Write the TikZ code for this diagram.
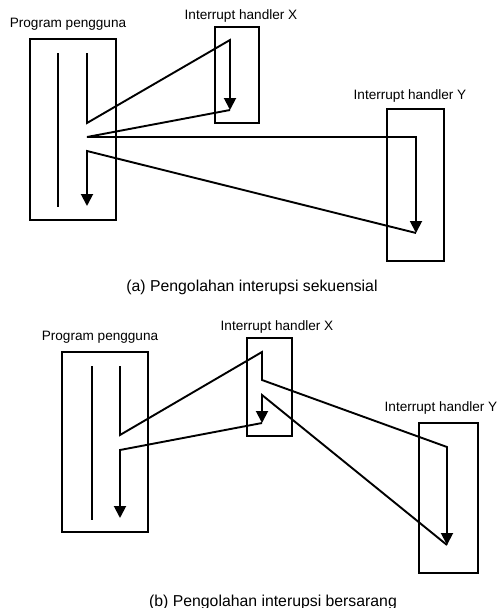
\documentclass[tikz,border=0pt]{standalone}
\usepackage{fontspec}
\setmainfont{Liberation Sans}
\usetikzlibrary{arrows.meta}
\tikzset{
  box/.style={draw, line width=1.9pt, inner sep=0pt},
  lbl/.style={anchor=base, inner sep=0pt, font=\fontsize{13.6}{16}\selectfont},
  captxt/.style={anchor=base, inner sep=0pt, font=\fontsize{15.8}{18}\selectfont},
  flow/.style={line width=1.9pt},
  tip/.style={flow, -{Triangle[length=12pt,width=12pt]}}
}
\begin{document}
\begin{tikzpicture}[x=1pt, y=-1pt]
        \useasboundingbox (0,0) rectangle (499,608);
        % (a) sequential
        \node[box, minimum width=86pt, minimum height=181pt] (proga) at (73,129.5) {};
        \node[box, minimum width=44pt, minimum height=96pt] (hxa) at (237,75) {};
        \node[box, minimum width=57pt, minimum height=152pt] (hya) at (415.5,185) {};
        \node[lbl] (lproga) at (68,27) {Program pengguna};
        \node[lbl] (lhxa) at (241,19) {Interrupt handler X};
        \node[lbl] (lhya) at (410,99) {Interrupt handler Y};
        \node[captxt] (capa) at (252,291) {(a) Pengolahan interupsi sekuensial};
        \coordinate (a0) at (58,53);   \coordinate (a1) at (58,207);
        \coordinate (u1) at (87,53);   \coordinate (u2) at (87,123);
        \coordinate (u3) at (87,137);  \coordinate (u4) at (87,151);
        \coordinate (u5) at (87,206);
        \coordinate (x1) at (230,40);  \coordinate (x2) at (230,110);
        \coordinate (y1) at (416,137); \coordinate (y2) at (416,233);
        \draw[flow] (a0) -- (a1);
        \draw[tip] (u1) -- (u2) -- (x1) -- (x2);
        \draw[tip] (x2) -- (u3) -- (y1) -- (y2);
        \draw[tip] (y2) -- (u4) -- (u5);
        % (b) nested
        \node[box, minimum width=86pt, minimum height=180pt] (progb) at (105,442) {};
        \node[box, minimum width=45pt, minimum height=98pt] (hxb) at (269.5,387) {};
        \node[box, minimum width=59pt, minimum height=150pt] (hyb) at (448.5,498) {};
        \node[lbl] (lprogb) at (100,340) {Program pengguna};
        \node[lbl] (lhxb) at (277,330) {Interrupt handler X};
        \node[lbl] (lhyb) at (441,411) {Interrupt handler Y};
        \node[captxt] (capb) at (273,606) {(b) Pengolahan interupsi bersarang};
        \coordinate (b0) at (92,366);  \coordinate (b1) at (92,520);
        \coordinate (v1) at (120,366); \coordinate (v2) at (120,435);
        \coordinate (v3) at (120,450); \coordinate (v4) at (120,518);
        \coordinate (s1) at (262,352); \coordinate (s2) at (262,380);
        \coordinate (s3) at (262,395); \coordinate (s4) at (262,423);
        \coordinate (t1) at (447,447); \coordinate (t2) at (447,545);
        \draw[flow] (b0) -- (b1);
        \draw[tip] (v1) -- (v2) -- (s1) -- (s2) -- (t1) -- (t2);
        \draw[tip] (t2) -- (s3) -- (s4);
        \draw[tip] (s4) -- (v3) -- (v4);
\end{tikzpicture}
\end{document}
